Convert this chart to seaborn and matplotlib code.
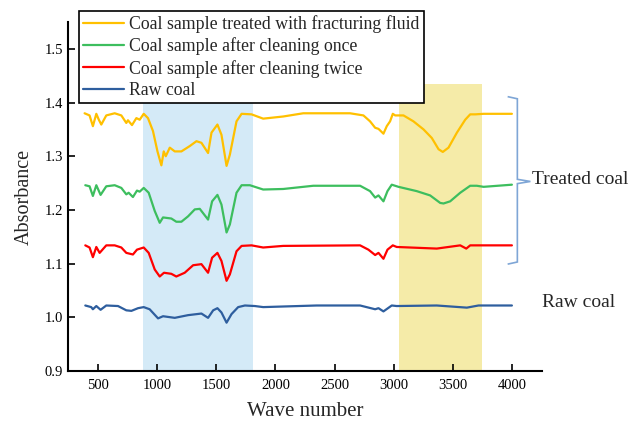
import numpy as np
import pandas as pd
import matplotlib
matplotlib.use("Agg")
import matplotlib.pyplot as plt
import seaborn as sns
from matplotlib.path import Path
from matplotlib.patches import PathPatch

# ---------------- data ----------------
labels = ["Coal sample treated with fracturing fluid",
          "Coal sample after cleaning once",
          "Coal sample after cleaning twice",
          "Raw coal"]

yellow_x = [390, 432, 460, 489, 510, 531, 573, 644, 700, 742, 756, 790, 827, 855, 889, 925, 967, 1005,
            1038, 1058, 1075, 1109, 1151, 1207, 1278, 1334, 1376, 1432, 1461, 1511, 1545, 1588, 1616,
            1672, 1715, 1799, 1897, 2066, 2235, 2630, 2743, 2799, 2842, 2870, 2912, 2940, 2968, 2991,
            3011, 3081, 3165, 3250, 3320, 3377, 3413, 3461, 3532, 3602, 3644, 3687, 3757, 3996]
yellow_y = [1.380, 1.376, 1.356, 1.379, 1.368, 1.359, 1.376, 1.380, 1.376, 1.362, 1.367, 1.358, 1.371,
            1.368, 1.379, 1.371, 1.347, 1.309, 1.283, 1.309, 1.300, 1.316, 1.309, 1.309, 1.319, 1.328,
            1.325, 1.306, 1.344, 1.359, 1.340, 1.282, 1.303, 1.365, 1.379, 1.378, 1.370, 1.374, 1.380,
            1.380, 1.376, 1.365, 1.353, 1.351, 1.342, 1.356, 1.365, 1.379, 1.376, 1.376, 1.365, 1.350,
            1.334, 1.313, 1.308, 1.316, 1.344, 1.368, 1.378, 1.378, 1.379, 1.379]

green_x = [396, 432, 460, 489, 525, 573, 644, 700, 742, 762, 798, 832, 855, 889, 931, 982, 1024, 1052,
           1122, 1164, 1207, 1263, 1320, 1362, 1432, 1466, 1511, 1545, 1588, 1616, 1672, 1715, 1785,
           1897, 2066, 2320, 2715, 2799, 2842, 2870, 2912, 2946, 2982, 3039, 3193, 3306, 3391, 3419,
           3475, 3560, 3644, 3700, 3757, 3996]
green_y = [1.246, 1.244, 1.226, 1.246, 1.228, 1.244, 1.246, 1.241, 1.229, 1.232, 1.224, 1.236, 1.234,
           1.241, 1.232, 1.198, 1.176, 1.186, 1.184, 1.178, 1.178, 1.188, 1.201, 1.202, 1.182, 1.216,
           1.228, 1.210, 1.158, 1.173, 1.232, 1.246, 1.246, 1.238, 1.239, 1.245, 1.245, 1.235, 1.223,
           1.227, 1.216, 1.235, 1.247, 1.243, 1.235, 1.227, 1.213, 1.212, 1.216, 1.232, 1.245, 1.245,
           1.243, 1.247]

red_x = [396, 432, 460, 489, 517, 573, 644, 700, 742, 798, 832, 889, 931, 982, 1024, 1060, 1122, 1164,
         1235, 1306, 1376, 1432, 1466, 1511, 1545, 1588, 1616, 1672, 1715, 1799, 1897, 2066, 2715,
         2785, 2842, 2870, 2912, 2946, 2991, 3024, 3362, 3560, 3611, 3644, 3996]
red_y = [1.134, 1.130, 1.112, 1.131, 1.120, 1.134, 1.134, 1.130, 1.120, 1.117, 1.126, 1.130, 1.120,
         1.089, 1.076, 1.083, 1.081, 1.076, 1.083, 1.097, 1.099, 1.083, 1.111, 1.120, 1.105, 1.068,
         1.080, 1.123, 1.133, 1.134, 1.130, 1.133, 1.134, 1.126, 1.116, 1.120, 1.109, 1.126, 1.134,
         1.131, 1.128, 1.134, 1.128, 1.134, 1.134]

blue_x = [396, 446, 460, 489, 525, 573, 672, 742, 785, 841, 889, 939, 1010, 1052, 1151, 1263, 1376,
          1432, 1475, 1511, 1545, 1588, 1630, 1686, 1743, 1827, 1897, 2348, 2715, 2842, 2870, 2912,
          2982, 3024, 3362, 3616, 3714, 3996]
blue_y = [1.022, 1.019, 1.015, 1.021, 1.014, 1.022, 1.021, 1.013, 1.012, 1.017, 1.019, 1.015, 0.998,
          1.002, 0.999, 1.004, 1.007, 0.999, 1.013, 1.017, 1.009, 0.990, 1.006, 1.019, 1.022, 1.021,
          1.019, 1.022, 1.022, 1.015, 1.017, 1.011, 1.022, 1.021, 1.022, 1.018, 1.022, 1.022]

colors = ["#FFC000", "#3DBE5E", "#FF0000", "#2E5E9E"]
xticks = [500, 1000, 1500, 2000, 2500, 3000, 3500, 4000]
yticks = [0.9, 1.0, 1.1, 1.2, 1.3, 1.4, 1.5]

# ---------------- plot ----------------
sns.set_theme(style="ticks")
plt.rcParams["font.family"] = ["Liberation Serif", "DejaVu Serif"]

fig = plt.figure(figsize=(6.29, 4.23), dpi=100)
ax = fig.add_axes([68/629, 1-371/423, (542-68)/629, (371-22)/423])

ax.axvspan(880, 1810, color="#D4EAF7", zorder=0, lw=0)
ax.fill_between([3040, 3740], 0.9, 1.435, color="#F5EBA8", zorder=0, lw=0)

series = [(yellow_x, yellow_y), (green_x, green_y), (red_x, red_y), (blue_x, blue_y)]
frames = []
for lab, (xs, ys) in zip(labels, series):
    frames.append(pd.DataFrame({"Wave number": xs, "Absorbance": ys, "sample": lab}))
df = pd.concat(frames, ignore_index=True)

sns.lineplot(data=df, x="Wave number", y="Absorbance", hue="sample", hue_order=labels,
             palette=colors, linewidth=1.6, ax=ax, legend=True, zorder=3)

ax.set_xlim(250, 4250)
ax.set_ylim(0.9, 1.55)
ax.set_xticks(xticks)
ax.set_yticks(yticks)
ax.set_yticklabels([f"{v:.1f}" for v in yticks])
ax.tick_params(direction="in", length=5, width=1.2, labelsize=10.5, colors="black")
ax.tick_params(axis="x", pad=6)
for s in ["top", "right"]:
    ax.spines[s].set_visible(False)
for s in ["left", "bottom"]:
    ax.spines[s].set_linewidth(1.5)
    ax.spines[s].set_color("black")
ax.set_xlabel("Wave number", fontsize=15, labelpad=7)
ax.set_ylabel("Absorbance", fontsize=14.5, labelpad=8)

handles, _ = ax.get_legend_handles_labels()
ax.legend_.remove()
leg = fig.legend(handles[:4], labels, loc="upper left", bbox_to_anchor=(79/629, 1-11/423),
                 bbox_transform=fig.transFigure, frameon=True, fancybox=False, fontsize=12.8,
                 borderaxespad=0, handlelength=2.3, handletextpad=0.25, labelspacing=0.24,
                 borderpad=0.25, framealpha=1.0)
leg.get_frame().set_edgecolor("black")
leg.get_frame().set_facecolor("white")
leg.get_frame().set_linewidth(1.2)
leg.set_zorder(10)

# brace
bx0, bx1, btip = 3960, 4042, 4152
ytop, ybot, ymid = 1.411, 1.099, 1.253
verts = [(bx0, ytop), (bx1, ytop - 0.004), (bx1, ymid + 0.004), (btip, ymid),
         (bx1, ymid - 0.004), (bx1, ybot + 0.004), (bx0, ybot)]
codes = [Path.MOVETO] + [Path.LINETO] * 6
ax.add_patch(PathPatch(Path(verts, codes), fill=False, edgecolor="#7FA6D6", lw=1.2, clip_on=False))

ax.text(btip + 15, ymid + 0.003, "Treated coal", fontsize=14, va="center", ha="left", clip_on=False)
ax.text(4250, 1.028, "Raw coal", fontsize=14, va="center", ha="left", clip_on=False)

fig.savefig("out.png", dpi=100)
